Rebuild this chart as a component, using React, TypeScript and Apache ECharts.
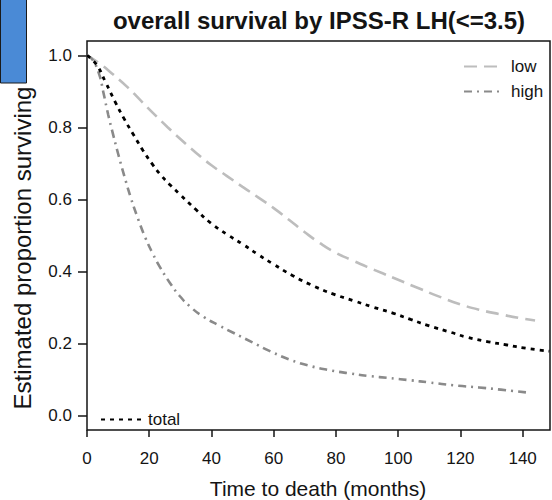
import React, { useEffect, useRef } from "react";
import * as echarts from "echarts";

const titleText = "overall survival by IPSS-R LH(<=3.5)";
const xName = "Time to death (months)";
const yName = "Estimated proportion surviving";

const xTicks = [0, 20, 40, 60, 80, 100, 120, 140];
const yTicks = [0, 0.2, 0.4, 0.6, 0.8, 1.0];

const lowMonths = [0, 4, 8, 13, 17, 21, 26, 30, 35, 40, 45, 50, 55, 60, 65, 70, 75, 80, 85, 90, 95, 100, 107, 113, 120, 126, 133, 139, 144];
const lowSurv = [1.0, 0.978, 0.95, 0.912, 0.877, 0.842, 0.8, 0.768, 0.73, 0.695, 0.665, 0.635, 0.606, 0.576, 0.543, 0.509, 0.478, 0.452, 0.432, 0.413, 0.395, 0.377, 0.352, 0.331, 0.309, 0.294, 0.281, 0.271, 0.264];

const highMonths = [0, 2, 4, 5.2, 6.8, 8.4, 10, 12, 14, 16, 18.6, 21, 23.4, 26.6, 29.8, 33.1, 37.3, 42.7, 47, 53, 58.8, 65, 71.6, 78, 84.5, 90.6, 97.4, 104, 110, 118, 126, 133, 142.5];
const highSurv = [1.0, 0.985, 0.945, 0.9, 0.836, 0.78, 0.727, 0.665, 0.607, 0.556, 0.497, 0.452, 0.413, 0.369, 0.332, 0.303, 0.275, 0.249, 0.23, 0.204, 0.179, 0.156, 0.138, 0.126, 0.117, 0.11, 0.104, 0.098, 0.092, 0.084, 0.078, 0.072, 0.063];

const totalMonths = [0, 3, 6, 9, 12, 15, 18, 21, 24, 27, 30, 35, 40, 45, 50, 55, 60, 66, 73, 79, 86, 92, 98.5, 104, 110, 117, 122, 129, 135, 141, 148.6];
const totalSurv = [1.0, 0.975, 0.925, 0.872, 0.823, 0.779, 0.736, 0.698, 0.665, 0.638, 0.613, 0.572, 0.533, 0.503, 0.476, 0.447, 0.42, 0.389, 0.359, 0.338, 0.318, 0.301, 0.284, 0.267, 0.249, 0.231, 0.218, 0.205, 0.196, 0.187, 0.179];

const zip = (xs: number[], ys: number[]) => xs.map((x, i) => [x, ys[i]]);

export default function App() {
  const ref = useRef<HTMLDivElement>(null);
  useEffect(() => {
    const chart = echarts.init(ref.current!, null, { renderer: "svg" });
    const font = "'Liberation Sans', Arial, Helvetica, sans-serif";
    const ink = "#141414";
    chart.setOption({
      animation: false,
      backgroundColor: "#ffffff",
      grid: {
        left: 87,
        right: 2,
        top: 41,
        bottom: 70,
        show: true,
        borderColor: ink,
        borderWidth: 1.5,
        backgroundColor: "transparent",
      },
      xAxis: {
        type: "value",
        min: 0,
        max: 148.8,
        axisLine: { show: false, onZero: false },
        splitLine: { show: false },
        axisTick: { show: true, inside: false, length: 7, customValues: xTicks, lineStyle: { color: ink, width: 1.5 } },
        axisLabel: { customValues: xTicks, fontSize: 17, margin: 20, color: ink, fontFamily: font },
      },
      yAxis: {
        type: "value",
        min: -0.04,
        max: 1.04,
        axisLine: { show: false, onZero: false },
        splitLine: { show: false },
        axisTick: { show: true, inside: false, length: 9, customValues: yTicks, lineStyle: { color: ink, width: 1.5 } },
        axisLabel: {
          customValues: yTicks,
          fontSize: 17,
          margin: 15,
          color: ink,
          fontFamily: font,
          formatter: (v: number) => v.toFixed(1),
        },
      },
      legend: [
        {
          data: ["low", "high"],
          orient: "vertical",
          left: 458,
          top: 53,
          itemWidth: 37,
          itemHeight: 17,
          itemGap: 8,
          itemStyle: { opacity: 0 },
          textStyle: { fontSize: 17, color: ink, fontFamily: font, padding: [0, 0, 0, 5] },
        },
        {
          data: ["total"],
          left: 95,
          top: 406,
          itemWidth: 42,
          itemHeight: 17,
          itemStyle: { opacity: 0 },
          textStyle: { fontSize: 17, color: ink, fontFamily: font },
        },
      ],
      series: [
        {
          name: "low",
          type: "line",
          data: zip(lowMonths, lowSurv),
          symbol: "none",
          smooth: 0.5,
          lineStyle: { color: "#bdbdbd", width: 2.6, type: [13, 7] },
          itemStyle: { color: "#bdbdbd" },
        },
        {
          name: "high",
          type: "line",
          data: zip(highMonths, highSurv),
          symbol: "none",
          smooth: 0.5,
          lineStyle: { color: "#8a8a8a", width: 2.6, type: [8, 5, 2, 5] },
          itemStyle: { color: "#8a8a8a" },
        },
        {
          name: "total",
          type: "line",
          data: zip(totalMonths, totalSurv),
          symbol: "none",
          smooth: 0.5,
          lineStyle: { color: "#000000", width: 2.8, type: [4, 5] },
          itemStyle: { color: "#000000" },
        },
      ],
      graphic: [
        {
          type: "rect",
          shape: { x: 0.5, y: -1, width: 26, height: 84 },
          style: { fill: "#4a8ad6", stroke: "#1a1a1a", lineWidth: 1 },
        },
        {
          type: "text",
          x: 319,
          y: 20,
          style: {
            text: titleText,
            align: "center",
            verticalAlign: "middle",
            fontSize: 24,
            fontWeight: "bold",
            fontFamily: font,
            fill: ink,
          },
        },
        {
          type: "text",
          x: 318,
          y: 488,
          style: {
            text: xName,
            align: "center",
            verticalAlign: "middle",
            fontSize: 21,
            fontFamily: font,
            fill: ink,
          },
        },
        {
          type: "text",
          x: 22,
          y: 248,
          rotation: Math.PI / 2,
          style: {
            text: yName,
            align: "center",
            verticalAlign: "middle",
            fontSize: 24,
            fontFamily: font,
            fill: ink,
          },
        },
      ],
    });
    return () => chart.dispose();
  }, []);
  return (
    <div
      ref={ref}
      style={{ position: "fixed", left: 0, top: 0, width: 552, height: 500, background: "#fff" }}
    />
  );
}
